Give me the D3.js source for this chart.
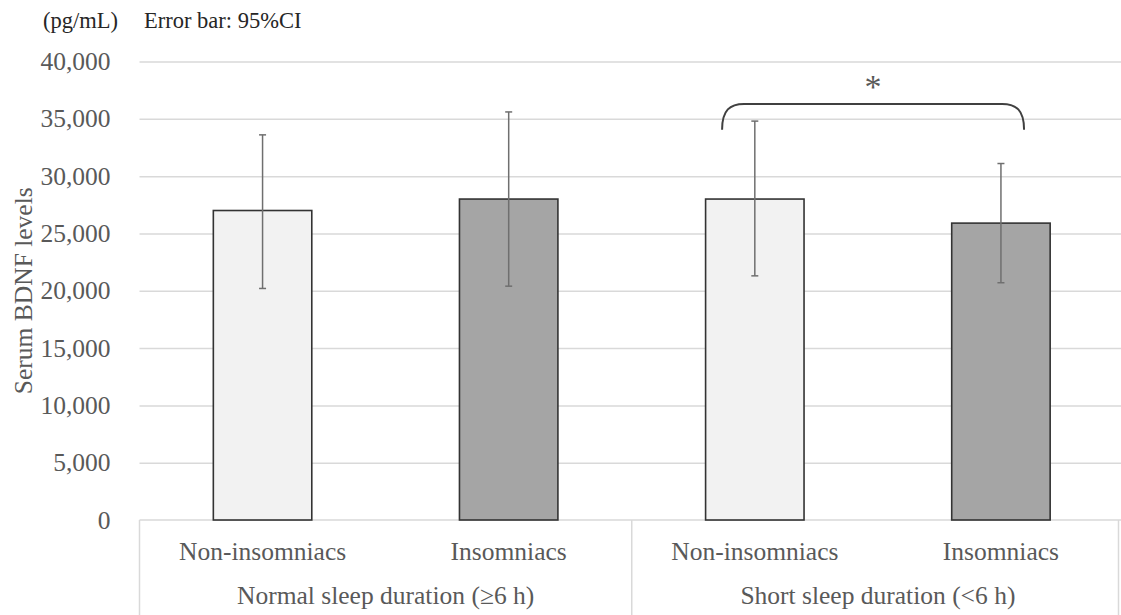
<!DOCTYPE html>
<html>
<head>
<meta charset="utf-8">
<script src="https://cdn.jsdelivr.net/npm/d3@7"></script>
<style>
  html, body { margin: 0; padding: 0; background: #fff; }
  svg { display: block; }
</style>
</head>
<body>
<div id="bdnf-chart"></div>
<script>
// Data
const groups = ['Normal sleep duration (\u22656 h)', 'Short sleep duration (<6 h)'];
const categories = ['Non-insomniacs', 'Insomniacs', 'Non-insomniacs', 'Insomniacs'];
const groupIndex = [0, 0, 1, 1];
const means = [27000, 28000, 28000, 25900];
const ciLow = [20200, 20400, 21300, 20700];
const ciHigh = [33600, 35600, 34800, 31100];
const barFills = ['#f2f2f2', '#a5a5a5', '#f2f2f2', '#a5a5a5'];
const yTicks = [0, 5000, 10000, 15000, 20000, 25000, 30000, 35000, 40000];

// Config
const width = 1121;
const height = 615;
const margin = {top: 61.5, right: -3, bottom: 95, left: 139.5};
const innerBottom = height - margin.bottom;
const font = '"Liberation Serif", "Times New Roman", serif';

const ids = categories.map((c, i) => i);

const x = d3.scaleBand()
  .domain(ids)
  .range([margin.left, width - margin.right])
  .paddingInner(0)
  .paddingOuter(0);

const barWidth = x.bandwidth() * 0.4;
const cx = i => x(i) + x.bandwidth() / 2;

const y = d3.scaleLinear()
  .domain([0, 40000])
  .range([innerBottom, margin.top]);

const svg = d3.select('#bdnf-chart').append('svg')
  .attr('width', width)
  .attr('height', height);

// Gridlines
svg.append('g')
  .attr('transform', `translate(${margin.left},0)`)
  .call(d3.axisLeft(y).tickValues(yTicks.slice(1)).tickSize(-(width - margin.left)).tickFormat(''))
  .call(g => g.select('.domain').remove())
  .call(g => g.selectAll('line').attr('stroke', '#d9d9d9').attr('stroke-width', 1.5));

// Y axis labels
svg.append('g')
  .attr('transform', `translate(${margin.left},0)`)
  .call(d3.axisLeft(y).tickValues(yTicks).tickSize(0).tickPadding(29).tickFormat(d3.format(',')))
  .call(g => g.select('.domain').remove())
  .call(g => g.selectAll('text')
    .attr('fill', '#595959')
    .attr('font-family', font)
    .attr('font-size', 25.5));

// Category axis frame
const frame = svg.append('g').attr('stroke', '#d9d9d9').attr('stroke-width', 1.5);
frame.append('line')
  .attr('x1', margin.left).attr('x2', width)
  .attr('y1', y(0)).attr('y2', y(0));
const dividers = [x(0), x(2), Math.min(x(3) + x.bandwidth(), width - 2.5)];
frame.selectAll('.divider')
  .data(dividers)
  .join('line')
  .attr('x1', d => d).attr('x2', d => d)
  .attr('y1', y(0)).attr('y2', height);

// Bars
svg.append('g')
  .selectAll('rect')
  .data(ids)
  .join('rect')
  .attr('x', i => cx(i) - barWidth / 2)
  .attr('width', barWidth)
  .attr('y', i => y(means[i]))
  .attr('height', i => y(0) - y(means[i]))
  .attr('fill', i => barFills[i])
  .attr('stroke', '#333333')
  .attr('stroke-width', 1.6);

// Error bars (95% CI)
const err = svg.append('g')
  .attr('stroke', '#6f6f6f')
  .attr('stroke-width', 1.5);
err.selectAll('.stem')
  .data(ids)
  .join('line')
  .attr('x1', i => cx(i)).attr('x2', i => cx(i))
  .attr('y1', i => y(ciLow[i])).attr('y2', i => y(ciHigh[i]));
err.selectAll('.cap')
  .data(ids.flatMap(i => [[i, ciLow[i]], [i, ciHigh[i]]]))
  .join('line')
  .attr('x1', d => cx(d[0]) - 3.5).attr('x2', d => cx(d[0]) + 3.5)
  .attr('y1', d => y(d[1])).attr('y2', d => y(d[1]));

// Category labels
svg.append('g')
  .selectAll('text')
  .data(ids)
  .join('text')
  .attr('x', i => cx(i))
  .attr('y', 560)
  .attr('text-anchor', 'middle')
  .attr('font-family', font)
  .attr('font-size', 25.5)
  .attr('fill', '#595959')
  .text(i => categories[i]);

// Group labels
svg.append('g')
  .selectAll('text')
  .data(groups)
  .join('text')
  .attr('x', (d, gi) => {
    const members = ids.filter(i => groupIndex[i] === gi);
    return (x(members[0]) + x(members[members.length - 1]) + x.bandwidth()) / 2;
  })
  .attr('y', 604)
  .attr('text-anchor', 'middle')
  .attr('font-family', font)
  .attr('font-size', 25.5)
  .attr('fill', '#595959')
  .text(d => d);

// Y axis title
svg.append('text')
  .attr('transform', `translate(32,${(y(0) + y(40000)) / 2}) rotate(-90)`)
  .attr('text-anchor', 'middle')
  .attr('font-family', font)
  .attr('font-size', 25.5)
  .attr('fill', '#595959')
  .text('Serum BDNF levels');

// Top notes
svg.append('text')
  .attr('x', 43).attr('y', 28)
  .attr('font-family', font)
  .attr('font-size', 22.5)
  .attr('fill', '#262626')
  .text('(pg/mL)');
svg.append('text')
  .attr('x', 144).attr('y', 28)
  .attr('font-family', font)
  .attr('font-size', 22.5)
  .attr('fill', '#262626')
  .text('Error bar: 95%CI');

// Significance bracket between the short sleep groups
const bx1 = cx(2) - x.bandwidth() * 0.133;
const bx2 = cx(3) + x.bandwidth() * 0.094;
const bTop = y(36300);
const bEnd = y(34050);
const r = 22;
const bracket = d3.path();
bracket.moveTo(bx1, bEnd);
bracket.bezierCurveTo(bx1, bTop + 6, bx1 + 8, bTop, bx1 + r, bTop);
bracket.lineTo(bx2 - r, bTop);
bracket.bezierCurveTo(bx2 - 8, bTop, bx2, bTop + 6, bx2, bEnd);
svg.append('path')
  .attr('d', bracket.toString())
  .attr('fill', 'none')
  .attr('stroke', '#404040')
  .attr('stroke-width', 2);

svg.append('text')
  .attr('x', (bx1 + bx2) / 2)
  .attr('y', 98)
  .attr('text-anchor', 'middle')
  .attr('font-family', font)
  .attr('font-size', 34)
  .attr('fill', '#595959')
  .text('*');
</script>
</body>
</html>
